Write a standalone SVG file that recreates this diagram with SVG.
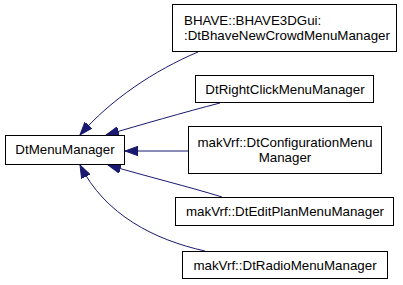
<svg xmlns="http://www.w3.org/2000/svg" width="403" height="285" viewBox="0 0 403 285">
<style>
.box{fill:#fff;stroke:#000;stroke-width:1}
.t{font-family:"Liberation Sans",Arial,sans-serif;font-size:13.33px;fill:#000}
.c{text-anchor:middle}
.e{fill:none;stroke:#191970;stroke-width:1}
</style>
<defs>
<marker id="ah" markerUnits="userSpaceOnUse" markerWidth="14" markerHeight="10" refX="13" refY="5" orient="auto">
<path d="M0,0.3 L13,5 L0,9.7 z" fill="#191970" stroke="#191970" stroke-width="1"/>
</marker>
</defs>
<rect width="403" height="285" fill="#fff"/>
<g id="edges">
<path class="e" d="M198,52 C155,70 110,100 80,135" marker-end="url(#ah)"/>
<path class="e" d="M220,103 C185,112 140,125 106,135" marker-end="url(#ah)"/>
<path class="e" d="M188,151 L125,151" marker-end="url(#ah)"/>
<path class="e" d="M222,197 C190,187 145,176 108,165" marker-end="url(#ah)"/>
<path class="e" d="M205,251 C155,240 105,215 80,165" marker-end="url(#ah)"/>
</g>
<g id="DtMenuManager">
<rect class="box" x="5.5" y="135.5" width="119" height="29"/>
<text class="t c" x="65" y="154">DtMenuManager</text>
</g>
<g id="DtBhaveNewCrowdMenuManager">
<rect class="box" x="172.5" y="4.5" width="224" height="47"/>
<text class="t" x="184" y="24.5">BHAVE::BHAVE3DGui:</text>
<text class="t" x="184" y="40">:DtBhaveNewCrowdMenuManager</text>
</g>
<g id="DtRightClickMenuManager">
<rect class="box" x="195.5" y="75.5" width="178" height="27"/>
<text class="t c" x="285" y="94">DtRightClickMenuManager</text>
</g>
<g id="DtConfigurationMenuManager">
<rect class="box" x="188.5" y="126.5" width="193" height="47"/>
<text class="t c" x="285" y="146.5">makVrf::DtConfigurationMenu</text>
<text class="t c" x="285" y="162">Manager</text>
</g>
<g id="DtEditPlanMenuManager">
<rect class="box" x="175.5" y="197.5" width="218" height="28"/>
<text class="t c" x="285" y="216">makVrf::DtEditPlanMenuManager</text>
</g>
<g id="DtRadioMenuManager">
<rect class="box" x="182.5" y="251.5" width="205" height="27"/>
<text class="t c" x="285" y="270">makVrf::DtRadioMenuManager</text>
</g>
</svg>
